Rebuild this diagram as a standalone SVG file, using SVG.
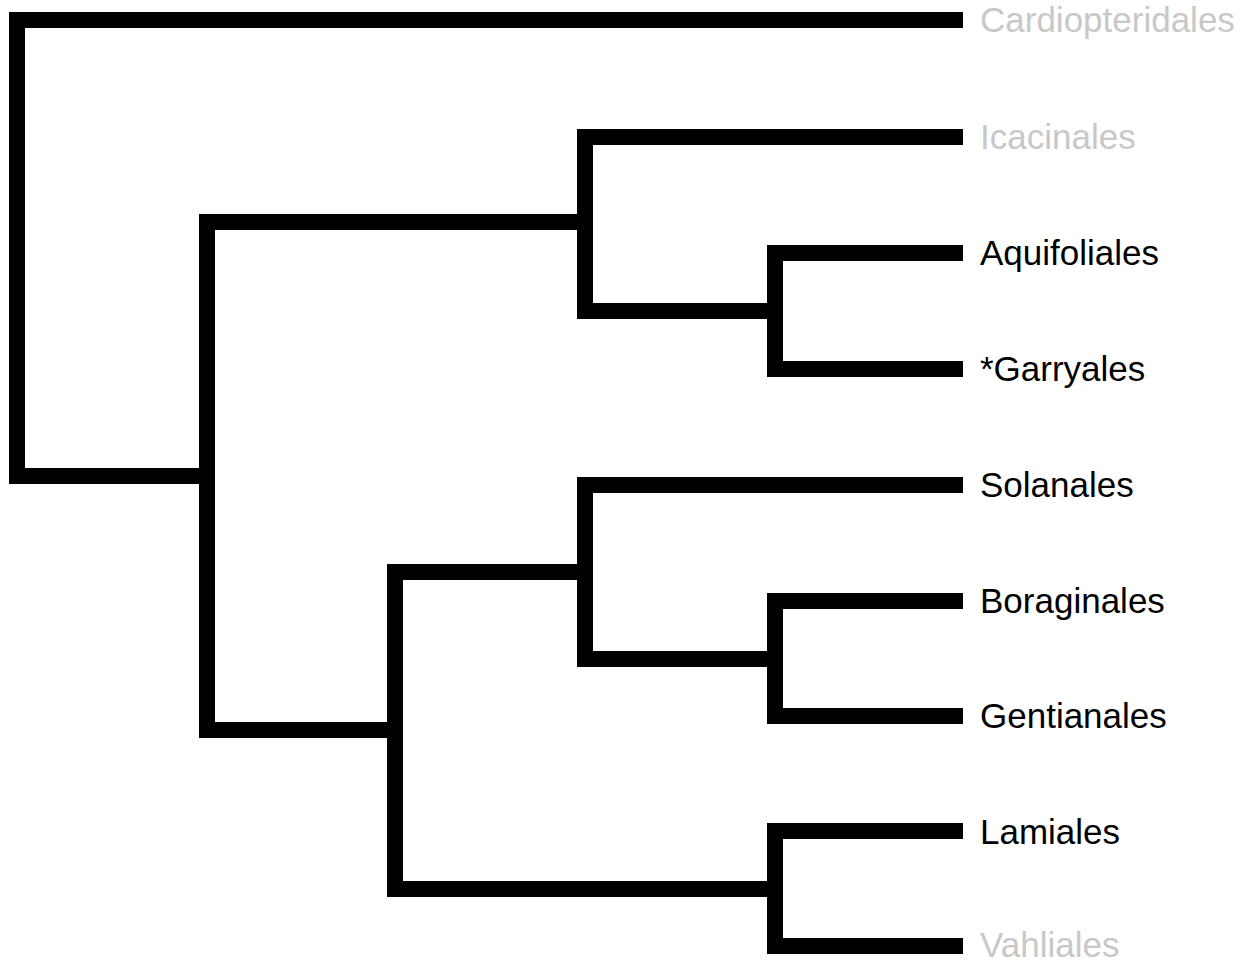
<svg xmlns="http://www.w3.org/2000/svg" width="1250" height="963" viewBox="0 0 1250 963">
<style>
.br{fill:none;stroke:#000;stroke-width:16;stroke-linejoin:miter;stroke-linecap:butt}
text{font-family:"Liberation Sans",Arial,sans-serif;font-size:35px}
.d{fill:#000}
.g{fill:#c8c8c8}
</style>
<rect width="1250" height="963" fill="#fff"/>
<g id="connectors">
<path class="br" d="M963,20 H17 V476 H207"/>
<path class="br" d="M585,222 H207 V730 H395"/>
<path class="br" d="M963,137 H585 V311 H775"/>
<path class="br" d="M963,253 H775 V369 H963"/>
<path class="br" d="M585,572 H395 V889 H775"/>
<path class="br" d="M963,485 H585 V659 H775"/>
<path class="br" d="M963,601 H775 V716 H963"/>
<path class="br" d="M963,831 H775 V946 H963"/>
</g>
<g id="n-cardiopteridales"><text class="g" x="980" y="32">Cardiopteridales</text></g>
<g id="n-icacinales"><text class="g" x="980" y="149">Icacinales</text></g>
<g id="n-aquifoliales"><text class="d" x="980" y="265">Aquifoliales</text></g>
<g id="n-garryales"><text class="d" x="980" y="381">*Garryales</text></g>
<g id="n-solanales"><text class="d" x="980" y="497">Solanales</text></g>
<g id="n-boraginales"><text class="d" x="980" y="613">Boraginales</text></g>
<g id="n-gentianales"><text class="d" x="980" y="728">Gentianales</text></g>
<g id="n-lamiales"><text class="d" x="980" y="844">Lamiales</text></g>
<g id="n-vahliales"><text class="g" x="980" y="957">Vahliales</text></g>
</svg>
